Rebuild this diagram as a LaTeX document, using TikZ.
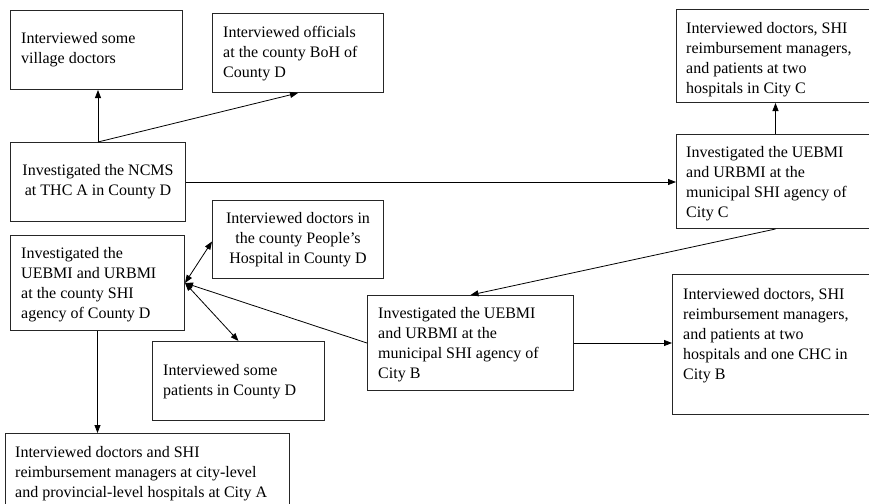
\documentclass[tikz,border=0pt]{standalone}
\usepackage{fontspec}
\setmainfont{Liberation Serif}
\usetikzlibrary{arrows.meta}
\begin{document}
\begin{tikzpicture}[x=1pt,y=-1pt,
  box/.style={draw=black!85, line width=1pt, anchor=north west, inner sep=0pt},
  txt/.style={anchor=north west, inner sep=0pt, align=left, font=\fontsize{16}{20}\selectfont},
  ctxt/.style={inner sep=0pt, align=center, font=\fontsize{16}{20}\selectfont},
  arr/.style={line width=0.8pt, -{Triangle[length=8pt,width=6pt]}},
  darr/.style={line width=0.8pt, {Triangle[length=8pt,width=6pt]}-{Triangle[length=8pt,width=6pt]}}]
\useasboundingbox (0,0) rectangle (869,503);
\fill[white] (0,0) rectangle (869,503);
\clip (0,0) rectangle (869,503);

% boxes
\node[box, minimum width=172pt, minimum height=79pt] (b1) at (10,10) {};
\node[box, minimum width=171pt, minimum height=79pt] (b2) at (212,13) {};
\node[box, minimum width=175pt, minimum height=79pt] (b3) at (10,142) {};
\node[box, minimum width=171pt, minimum height=78pt] (b4) at (212,200) {};
\node[box, minimum width=174pt, minimum height=95pt] (b5) at (10,235) {};
\node[box, minimum width=172pt, minimum height=79pt] (b6) at (152,341) {};
\node[box, minimum width=284pt, minimum height=100pt] (b7) at (5,433) {};
\node[box, minimum width=206pt, minimum height=95pt] (b8) at (367,295) {};
\node[box, minimum width=210pt, minimum height=140pt] (b9) at (672,274) {};
\node[box, minimum width=198pt, minimum height=93pt] (b10) at (676,9) {};
\node[box, minimum width=198pt, minimum height=94pt] (b11) at (676,134) {};

% texts
\node[txt] (t1) at (21,32) {Interviewed some\\village doctors};
\node[txt] (t2) at (223,26) {Interviewed officials\\at the county BoH of\\County D};
\node[ctxt] (t3) at (b3.center) {Investigated the NCMS\\at THC A in County D};
\node[ctxt] (t4) at (b4.center) {Interviewed doctors in\\the county People’s\\Hospital in County D};
\node[txt] (t5) at (21,247) {Investigated the\\UEBMI and URBMI\\at the county SHI\\agency of County D};
\node[txt] (t6) at (163,364) {Interviewed some\\patients in County D};
\node[txt] (t7) at (15,446) {Interviewed doctors and SHI\\reimbursement managers at city-level\\and provincial-level hospitals at City A};
\node[txt] (t8) at (378,307) {Investigated the UEBMI\\and URBMI at the\\municipal SHI agency of\\City B};
\node[txt] (t9) at (683,288) {Interviewed doctors, SHI\\reimbursement managers,\\and patients at two\\hospitals and one CHC in\\City B};
\node[txt] (t10) at (686,22) {Interviewed doctors, SHI\\reimbursement managers,\\and patients at two\\hospitals in City C};
\node[txt] (t11) at (686,146) {Investigated the UEBMI\\and URBMI at the\\municipal SHI agency of\\City C};

% connectors
\draw[arr] (b3.north) -- (b3.north |- b1.south);
\draw[arr] (b3.north) -- (b2.south);
\draw[arr] (b3.east) -- (b3.east -| b11.west);
\draw[arr] (b11.north) -- (b10.south);
\draw[arr] (b11.south) -- (b8.north);
\draw[darr] ([yshift=-2pt]b4.west) -- (b5.east);
\draw[darr] (b5.east) -- (b6.north);
\draw[arr] (b8.west) -- (b5.east);
\draw[arr] (b8.east) -- (b8.east -| b9.west);
\draw[arr] (b5.south) -- (b5.south |- b7.north);
\end{tikzpicture}
\end{document}
